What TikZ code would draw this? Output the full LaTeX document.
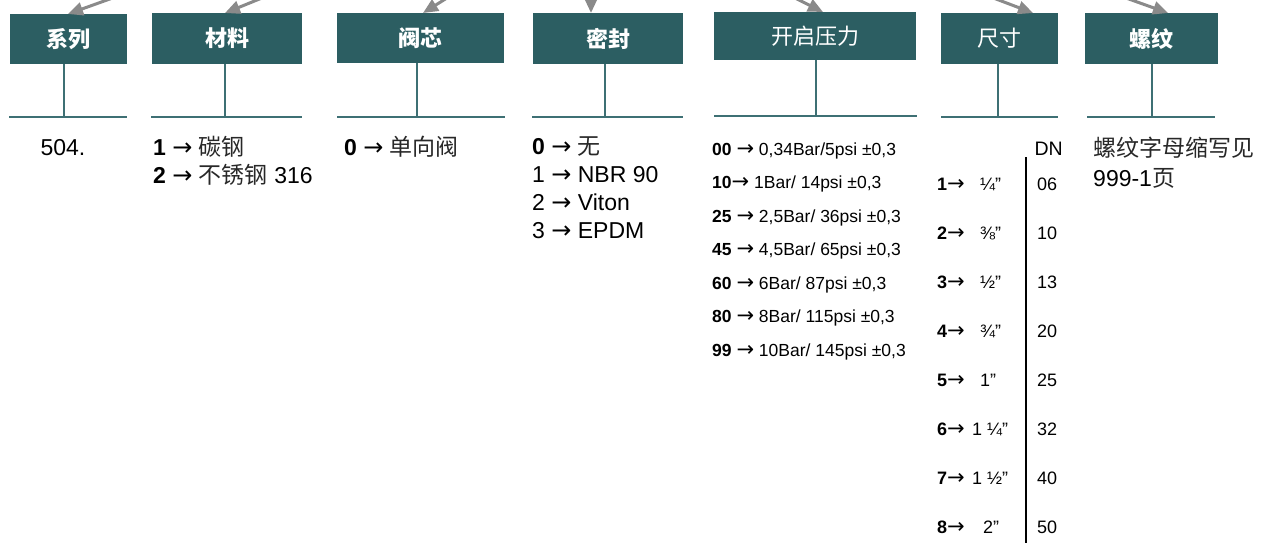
\documentclass[tikz,border=0pt]{standalone}
\usepackage{fontspec}
\setmainfont{Liberation Sans}
\newfontfamily\cjkf{Noto Sans CJK SC}
\newfontfamily\symf{DejaVu Sans}
\usetikzlibrary{arrows.meta}
\definecolor{boxteal}{RGB}{44,94,98}
\definecolor{lineteal}{RGB}{62,112,116}
\definecolor{arrgray}{RGB}{138,138,138}
\definecolor{cjkgray}{RGB}{40,40,40}
\newcommand{\zhs}[1]{{\cjkf\color{cjkgray}#1}}
\newcommand{\rarw}[1]{{\symf\fontsize{#1}{#1}\selectfont →}}
\newcommand{\hlab}[1]{\raisebox{-3pt}{#1}}
\begin{document}
\begin{tikzpicture}[x=1pt,y=-1pt,
  hdr/.style={fill=boxteal, text=white, inner sep=0pt, font=\cjkf\fontsize{22}{24}\selectfont},
  conn/.style={draw=lineteal, line width=2pt},
  feed/.style={draw=arrgray, line width=3pt, -{Triangle[length=15pt,width=13pt]}},
  lst/.style={anchor=base west, inner sep=0pt, font=\fontsize{23}{26}\selectfont},
  prs/.style={anchor=base west, inner sep=0pt, font=\fontsize{17.5}{20}\selectfont},
  szl/.style={anchor=base west, inner sep=0pt, font=\fontsize{18}{20}\selectfont}
]
\useasboundingbox (0,0) rectangle (1263,542);
\clip (0,0) rectangle (1263,542);

% header boxes
\node[hdr, minimum width=117pt, minimum height=50pt] (b1) at (68.5,39) {\hlab{\bfseries 系列}};
\node[hdr, minimum width=150pt, minimum height=51pt] (b2) at (227,38.5) {\hlab{\bfseries 材料}};
\node[hdr, minimum width=167pt, minimum height=50pt] (b3) at (420.5,38) {\hlab{\bfseries 阀芯}};
\node[hdr, minimum width=150pt, minimum height=51pt] (b4) at (608,38.5) {\hlab{\bfseries 密封}};
\node[hdr, minimum width=202pt, minimum height=48pt] (b5) at (815,36) {\raisebox{-1.5pt}{开启压力}};
\node[hdr, minimum width=117pt, minimum height=51pt] (b6) at (999.5,38.5) {\hlab{尺寸}};
\node[hdr, minimum width=133pt, minimum height=51pt] (b7) at (1151.5,38.5) {\hlab{\bfseries 螺纹}};

% incoming arrows from above
\coordinate (s1) at (146,-14);  \coordinate (t1) at (68,14);
\coordinate (s2) at (289,-13);  \coordinate (t2) at (225,13);
\coordinate (s3) at (463,-12);  \coordinate (t3) at (423,13);
\coordinate (s4) at (591,-12);  \coordinate (t4) at (591,13);
\coordinate (s5) at (777,-11);  \coordinate (t5) at (823,12);
\coordinate (s6) at (967,-12);  \coordinate (t6) at (1033,13);
\coordinate (s7) at (1098,-12); \coordinate (t7) at (1168,13);
\foreach \i in {1,...,7} {\draw[feed] (s\i) -- (t\i);}

% stems and bars
\coordinate (j1) at (64,117);   \coordinate (l1) at (9,117);    \coordinate (r1) at (127,117);
\coordinate (j2) at (225,117);  \coordinate (l2) at (151,117);  \coordinate (r2) at (302,117);
\coordinate (j3) at (417,117);  \coordinate (l3) at (337,117);  \coordinate (r3) at (505,117);
\coordinate (j4) at (605,117);  \coordinate (l4) at (532,117);  \coordinate (r4) at (683,117);
\coordinate (j5) at (816,116);  \coordinate (l5) at (714,116);  \coordinate (r5) at (917,116);
\coordinate (j6) at (998,117);  \coordinate (l6) at (941,117);  \coordinate (r6) at (1058,117);
\coordinate (j7) at (1152,117); \coordinate (l7) at (1087,117); \coordinate (r7) at (1215,117);
\foreach \i in {1,...,7} {
  \draw[conn] (b\i.south -| j\i) -- (j\i);
  \draw[conn] (l\i) -- (r\i);
}

% 系列
\node[lst, anchor=base] (v1) at (63,155) {504.};
% 材料
\node[lst] (m1) at (153,155) {\textbf{1} \rarw{24} \zhs{碳钢}};
\node[lst] (m2) at (153,183) {\textbf{2} \rarw{24} \zhs{不锈钢} 316};
% 阀芯
\node[lst] (c1) at (344,155) {\textbf{0} \rarw{24} \zhs{单向阀}};
% 密封
\node[lst] (d1) at (532,154) {\textbf{0} \rarw{24} \zhs{无}};
\node[lst] (d2) at (532,182) {1 \rarw{24} NBR 90};
\node[lst] (d3) at (532,210) {2 \rarw{24} Viton};
\node[lst] (d4) at (532,238) {3 \rarw{24} EPDM};
% 开启压力
\node[prs] (p1) at (712,155)   {\textbf{00} \rarw{21} 0,34Bar/5psi ±0,3};
\node[prs] (p2) at (712,188.5) {\textbf{10}\rarw{21} 1Bar/ 14psi ±0,3};
\node[prs] (p3) at (712,222)   {\textbf{25} \rarw{21} 2,5Bar/ 36psi ±0,3};
\node[prs] (p4) at (712,255.5) {\textbf{45} \rarw{21} 4,5Bar/ 65psi ±0,3};
\node[prs] (p5) at (712,289)   {\textbf{60} \rarw{21} 6Bar/ 87psi ±0,3};
\node[prs] (p6) at (712,322.5) {\textbf{80} \rarw{21} 8Bar/ 115psi ±0,3};
\node[prs] (p7) at (712,356)   {\textbf{99} \rarw{21} 10Bar/ 145psi ±0,3};
% 尺寸
\node[szl, anchor=base east, font=\fontsize{19.5}{21}\selectfont] (dn) at (1063,155) {DN};
\coordinate (vt) at (1026,157);
\coordinate (vb) at (1026,546);
\draw[line width=2.5pt] (vt) -- (vb);
\foreach \n/\fr/\fx/\dn [count=\k from 0] in {1/¼”/980/06, 2/⅜”/980/10, 3/½”/980/13, 4/¾”/980/20, 5/1”/980/25, 6/1 ¼”/972/32, 7/1 ½”/972/40, 8/2”/983/50} {
  \pgfmathsetmacro{\yy}{190+49*\k}
  \node[szl] (n\n) at (937,\yy) {\textbf{\n}\rarw{21}};
  \node[szl] (f\n) at (\fx,\yy) {\fr};
  \node[szl] (z\n) at (1037,\yy) {\dn};
}
% 螺纹
\node[lst, font=\cjkf\fontsize{23}{26}\selectfont, text=cjkgray] (t1a) at (1093,156) {螺纹字母缩写见};
\node[lst] (t1b) at (1093,186) {999-1\zhs{页}};
\end{tikzpicture}
\end{document}
